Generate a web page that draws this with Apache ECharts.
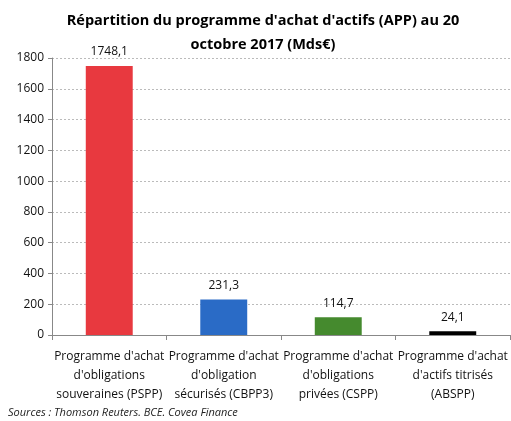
<!DOCTYPE html>
<html>
<head>
<meta charset="utf-8">
<script src="https://cdn.jsdelivr.net/npm/echarts@6/dist/echarts.min.js"></script>
<style>
  html, body { margin: 0; padding: 0; background: #fff; }
  #main { width: 511px; height: 421px; }
</style>
</head>
<body>
<div id="main"></div>
<script>
var categories = [
  "Programme d'achat\nd'obligations\nsouveraines (PSPP)",
  "Programme d'achat\nd'obligation\nsécurisés (CBPP3)",
  "Programme d'achat\nd'obligations\nprivées (CSPP)",
  "Programme d'achat\nd'actifs titrisés\n(ABSPP)"
];
var values = [1748.1, 231.3, 114.7, 24.1];
var barColors = ['#E8393F', '#2A6BC6', '#458A2E', '#000000'];

var font = 'Open Sans';
var myChart = echarts.init(document.getElementById('main'));
var option = {
  animation: false,
  title: {
    text: "Répartition du programme d'achat d'actifs (APP) au 20\noctobre 2017 (Mds€)",
    left: 258,
    textAlign: 'center',
    top: 4,
    textStyle: { fontFamily: font, fontSize: 14.5, fontWeight: 'bold', color: '#000', lineHeight: 24 }
  },
  graphic: [{
    type: 'text',
    left: 8,
    top: 407,
    style: { text: 'Sources : Thomson Reuters. BCE. Covea Finance', font: 'italic 11px ' + font, fill: '#222' }
  }],
  grid: { left: 52, right: 1, top: 58, bottom: 86, containLabel: false },
  xAxis: {
    type: 'category',
    data: categories,
    axisLine: { lineStyle: { color: '#888' } },
    axisTick: { show: true, length: 5, lineStyle: { color: '#888' } },
    axisLabel: { interval: 0, fontFamily: font, fontSize: 12, color: '#111', lineHeight: 19, margin: 12 }
  },
  yAxis: {
    type: 'value',
    min: 0, max: 1800, interval: 200,
    axisLine: { show: true, lineStyle: { color: '#888' } },
    axisTick: { show: true, length: 4, lineStyle: { color: '#888' } },
    axisLabel: { fontFamily: font, fontSize: 12, color: '#111', margin: 8, formatter: function (v) { return String(v); } },
    splitLine: { lineStyle: { color: '#bbb', type: [2, 2] } }
  },
  series: [{
    type: 'bar',
    barWidth: '41%',
    data: values.map(function (v, i) { return { value: v, itemStyle: { color: barColors[i] } }; }),
    label: {
      show: true, position: 'top', distance: 8,
      fontFamily: font, fontSize: 12, color: '#111',
      formatter: function (p) { return String(p.value).replace('.', ','); }
    }
  }]
};
myChart.setOption(option);
</script>
</body>
</html>
